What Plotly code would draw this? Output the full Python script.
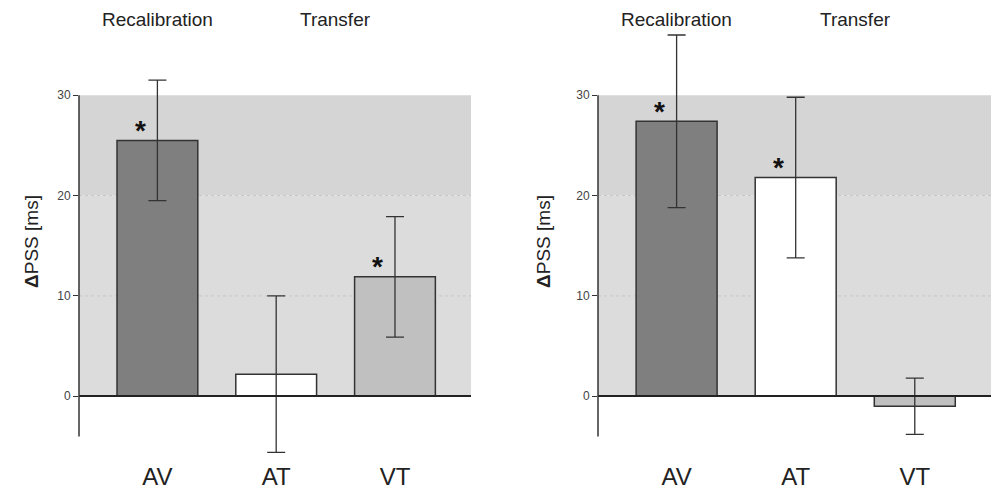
import plotly.graph_objects as go

# ---- data ----
categories = ["AV", "AT", "VT"]
left_values = [25.5, 2.2, 11.9]
left_errors = [6.0, 7.8, 6.0]
left_signif = [True, False, True]
right_values = [27.4, 21.8, -1.0]
right_errors = [8.6, 8.0, 2.8]
right_signif = [True, True, False]
y_ticks = [0, 10, 20, 30]
group_labels = ["Recalibration", "Transfer"]

# ---- styles ----
bar_colors = ["#7f7f7f", "#ffffff", "#c0c0c0"]
FONT = "Liberation Sans, Arial, sans-serif"
W, H = 991, 490
zero_px = 402.0
ppu = 10.18
y_range = [-(H - zero_px) / ppu, zero_px / ppu]

fig = go.Figure()

panels = [
    ("x", "y", left_values, left_errors, left_signif),
    ("x2", "y2", right_values, right_errors, right_signif),
]

for xr, yr, vals, errs, sig in panels:
    fig.add_trace(go.Bar(
        x=categories, y=vals, xaxis=xr, yaxis=yr,
        marker=dict(color=bar_colors, line=dict(color="#333333", width=1.5)),
        width=0.68,
        error_y=dict(type="data", array=errs, visible=True,
                     color="#333333", thickness=1.3, width=9),
        showlegend=False, hoverinfo="x+y",
    ))

xaxis_common = dict(
    type="category", range=[-0.66, 2.64], showline=True, linecolor="#222222",
    linewidth=1.5, ticks="", showgrid=False, zeroline=False,
    anchor="free", position=1 - zero_px / H,
    tickfont=dict(family=FONT, size=24, color="#222222"),
    ticklabelstandoff=59,
)
yaxis_common = dict(
    range=y_range, domain=[0, 1], tickvals=y_ticks, ticks="outside", ticklen=5,
    tickwidth=1.2, tickcolor="#333333", showline=False, showgrid=False,
    zeroline=False, tickfont=dict(family=FONT, size=12, color="#444444"),
)

fig.update_layout(
    width=W, height=H, margin=dict(l=0, r=0, t=0, b=0),
    paper_bgcolor="white", plot_bgcolor="rgba(0,0,0,0)",
    bargap=0.3,
    xaxis=dict(domain=[79 / W, 471 / W], **xaxis_common),
    xaxis2=dict(domain=[598 / W, 1.0], **xaxis_common),
    yaxis=dict(anchor="x", title=dict(text="<b>Δ</b>PSS [ms]", standoff=13,
               font=dict(family=FONT, size=19, color="#222222")), **yaxis_common),
    yaxis2=dict(anchor="x2", title=dict(text="<b>Δ</b>PSS [ms]", standoff=20,
                font=dict(family=FONT, size=19, color="#222222")), **yaxis_common),
)

shapes = []
annotations = []
for xr, yr, vals, errs, sig in panels:
    xd = xr + " domain"
    # background bands
    shapes.append(dict(type="rect", xref=xd, yref=yr, x0=0, x1=1, y0=20, y1=30,
                       fillcolor="#d5d5d5", line=dict(width=0), layer="below"))
    shapes.append(dict(type="rect", xref=xd, yref=yr, x0=0, x1=1, y0=0, y1=20,
                       fillcolor="#dcdcdc", line=dict(width=0), layer="below"))
    for g in [10, 20]:
        shapes.append(dict(type="line", xref=xd, yref=yr, x0=0, x1=1, y0=g, y1=g,
                           line=dict(color="#c6c6c6", width=1, dash="dot"), layer="below"))
    # y axis line
    shapes.append(dict(type="line", xref=xd, yref=yr, x0=0, x1=0, y0=-4, y1=30,
                       line=dict(color="#333333", width=1.5), layer="above"))
    # significance asterisks
    for c, v, s in zip(categories, vals, sig):
        if s:
            annotations.append(dict(xref=xr, yref=yr, x=c, y=v, text="<b>*</b>",
                                    showarrow=False, xshift=-17, yshift=10,
                                    yanchor="middle",
                                    font=dict(family=FONT, size=28, color="#111111")))
    # group headings
    annotations.append(dict(xref=xr, yref="paper", x=0, y=1 - 20 / H, text=group_labels[0],
                            showarrow=False, yanchor="middle",
                            font=dict(family=FONT, size=19, color="#222222")))
    annotations.append(dict(xref=xr, yref="paper", x=1.5, y=1 - 20 / H, text=group_labels[1],
                            showarrow=False, yanchor="middle",
                            font=dict(family=FONT, size=19, color="#222222")))

fig.update_layout(shapes=shapes, annotations=annotations)
fig.write_html("out.html")
